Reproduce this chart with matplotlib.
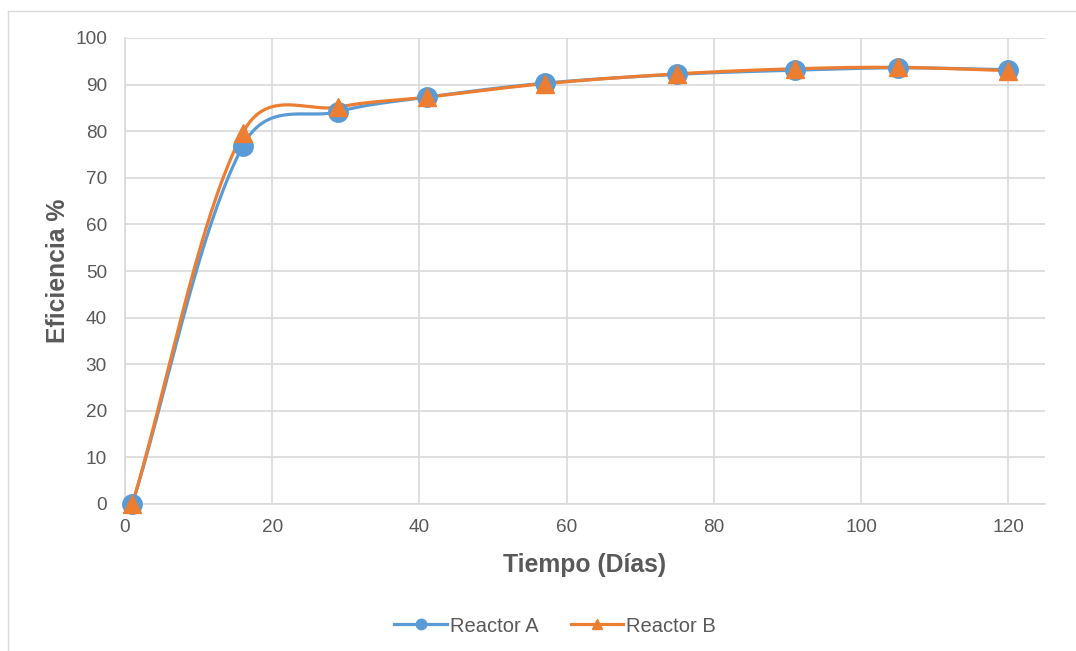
import numpy as np
import matplotlib
matplotlib.use("Agg")
import matplotlib.pyplot as plt
from matplotlib.lines import Line2D

days = [1, 16, 29, 41, 57, 75, 91, 105, 120]
reactor_a = [0, 76.8, 84.2, 87.3, 90.3, 92.2, 93.1, 93.6, 93.2]
reactor_b = [0, 79.6, 85.2, 87.3, 90.2, 92.3, 93.4, 93.7, 93.0]
series_names = ["Reactor A", "Reactor B"]
x_ticks = [0, 20, 40, 60, 80, 100, 120]
y_ticks = list(range(0, 101, 10))

plt.rcParams['font.family'] = ['Liberation Sans', 'DejaVu Sans']

def smooth(ax, x, y, n=40, blend=0.5):
    # Bezier smoothing (blend of uniform and chord-weighted Catmull-Rom) in display space
    pts = ax.transData.transform(np.column_stack([x, y]).astype(float))
    P = np.vstack([pts[0], pts, pts[-1]])
    t = np.linspace(0, 1, n)[:, None]
    out = []
    for i in range(1, len(P) - 2):
        p0, p3 = P[i], P[i + 1]
        d_prev = np.linalg.norm(P[i] - P[i - 1])
        d_cur = np.linalg.norm(P[i + 1] - P[i])
        d_next = np.linalg.norm(P[i + 2] - P[i + 1])
        T0 = P[i + 1] - P[i - 1]
        T1 = P[i + 2] - P[i]
        w0 = d_cur / (d_prev + d_cur) if d_prev + d_cur > 0 else 0
        w1 = d_cur / (d_cur + d_next) if d_cur + d_next > 0 else 0
        if d_prev > 0:
            w0 = blend * 0.5 + (1 - blend) * w0
        if d_next > 0:
            w1 = blend * 0.5 + (1 - blend) * w1
        c1 = p0 + T0 * w0 / 3
        c2 = p3 - T1 * w1 / 3
        b = (1 - t) ** 3 * p0 + 3 * (1 - t) ** 2 * t * c1 + 3 * (1 - t) * t ** 2 * c2 + t ** 3 * p3
        out.append(b)
    out = np.vstack(out)
    d = ax.transData.inverted().transform(out)
    return d[:, 0], d[:, 1]

blue = '#5B9BD5'
orange = '#ED7D31'
txt = '#595959'
grid = '#D9D9D9'

fig = plt.figure(figsize=(10.76, 6.51), dpi=100)
fig.add_artist(Line2D([7.5/1076, 7.5/1076], [0, 1 - 10.5/651], transform=fig.transFigure, color=grid, lw=1))
fig.add_artist(Line2D([7.5/1076, 1], [1 - 10.5/651, 1 - 10.5/651], transform=fig.transFigure, color=grid, lw=1))
ax = fig.add_axes([125/1076, 1-504/651, 920/1076, 466/651])
ax.set_xlim(0, 125)
ax.set_ylim(0, 100)

for yv, col, mk, name in [(reactor_a, blue, 'o', series_names[0]), (reactor_b, orange, '^', series_names[1])]:
    sx, sy = smooth(ax, days, yv)
    ax.plot(sx, sy, color=col, lw=2.3, zorder=3, solid_capstyle='round')
    ax.plot(days, yv, linestyle='none', marker=mk, markersize=14 if mk == 'o' else 13.5,
            color=col, zorder=4, clip_on=False)

h1 = Line2D([], [], color=blue, lw=2.3, marker='o', markersize=7.5)
h2 = Line2D([], [], color=orange, lw=2.3, marker='^', markersize=7.5)
fig.legend([h1, h2], series_names, loc='center', bbox_to_anchor=(555/1076, 1-626/651),
           ncol=2, frameon=False, fontsize=14.5, labelcolor=txt, handlelength=2.6,
           columnspacing=1.6, handletextpad=0.15)

ax.set_xticks(x_ticks)
ax.set_yticks(y_ticks)
ax.grid(True, color=grid, lw=1.2)
ax.set_axisbelow(True)
for s in ['top', 'right']:
    ax.spines[s].set_visible(False)
for s in ['left', 'bottom']:
    ax.spines[s].set_color(grid)
    ax.spines[s].set_linewidth(1.2)
ax.tick_params(axis='y', length=0, labelsize=13.7, labelcolor=txt, pad=13)
ax.tick_params(axis='x', length=0, labelsize=13.7, labelcolor=txt, pad=11)
ax.set_xlabel('Tiempo (Días)', fontsize=17.8, fontweight='bold', color=txt, labelpad=12)
ax.set_ylabel('Eficiencia %', fontsize=17.8, fontweight='bold', color=txt, labelpad=4)

fig.savefig('out.png', dpi=100)
